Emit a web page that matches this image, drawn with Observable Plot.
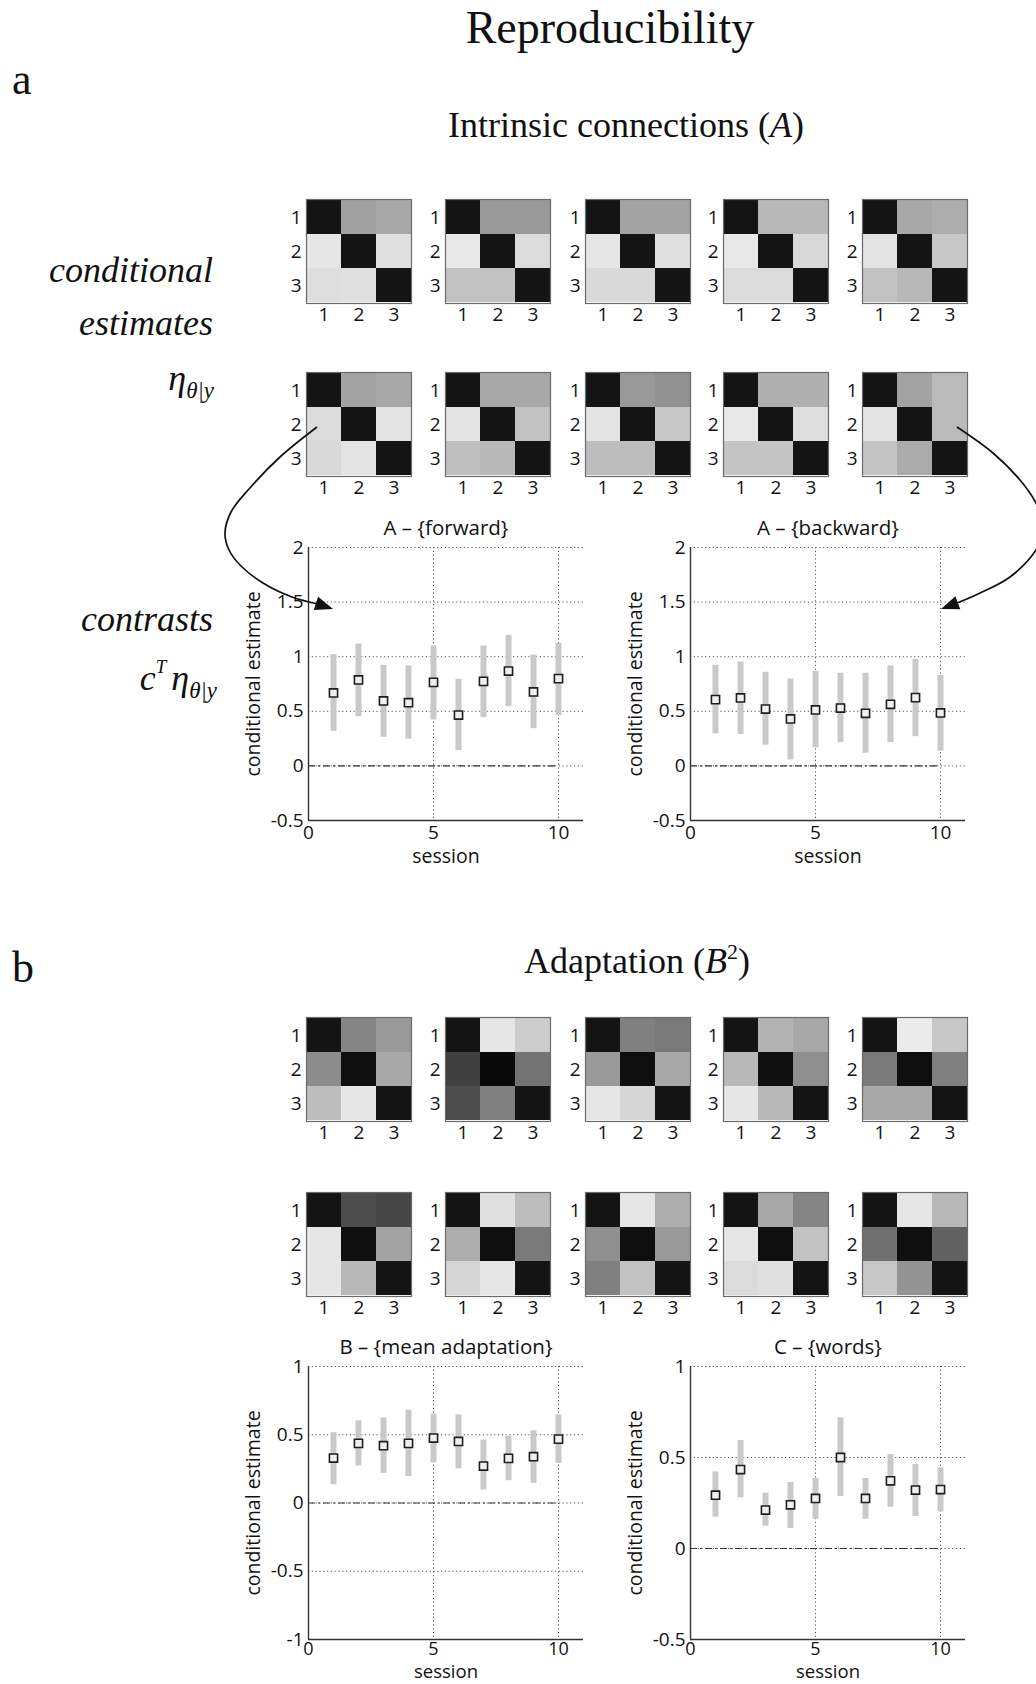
<!DOCTYPE html>
<html><head><meta charset="utf-8">
<script src="https://cdn.jsdelivr.net/npm/d3@7"></script>
<script src="https://cdn.jsdelivr.net/npm/@observablehq/plot@0.6"></script>
<style>
body{margin:0;background:#fff;}
#root{position:relative;width:1036px;height:1684px;overflow:hidden;background:#fff;}
.abs{position:absolute;}
#overlay{position:absolute;left:0;top:0;pointer-events:none;}
</style></head><body><div id="root"></div>
<script>
// ---------- data ----------
const sessions = [1,2,3,4,5,6,7,8,9,10];
const matrixIndex = [1,2,3];

// A - {forward}
const fwdMean = [0.668,0.787,0.595,0.579,0.765,0.466,0.774,0.869,0.677,0.799];
const fwdLo   = [0.317,0.451,0.262,0.244,0.421,0.140,0.442,0.543,0.341,0.460];
const fwdHi   = [1.018,1.116,0.921,0.915,1.098,0.793,1.098,1.195,1.015,1.122];
// A - {backward}
const bwdMean = [0.607,0.622,0.521,0.430,0.512,0.530,0.482,0.564,0.625,0.485];
const bwdLo   = [0.293,0.287,0.189,0.055,0.165,0.213,0.116,0.213,0.268,0.134];
const bwdHi   = [0.921,0.951,0.857,0.796,0.866,0.848,0.848,0.915,0.976,0.829];
// B - {mean adaptation}
const adaMean = [0.329,0.437,0.420,0.437,0.476,0.451,0.271,0.327,0.339,0.468];
const adaLo   = [0.134,0.271,0.217,0.193,0.295,0.251,0.095,0.163,0.144,0.290];
const adaHi   = [0.515,0.602,0.622,0.680,0.651,0.646,0.461,0.490,0.529,0.646];
// C - {words}
const wrdMean = [0.293,0.434,0.211,0.240,0.275,0.500,0.275,0.372,0.321,0.324];
const wrdLo   = [0.172,0.278,0.123,0.110,0.161,0.286,0.161,0.227,0.176,0.201];
const wrdHi   = [0.421,0.593,0.304,0.363,0.385,0.718,0.385,0.516,0.462,0.443];

const ticksA = [-0.5,0,0.5,1,1.5,2];
const ticksB = [-1,-0.5,0,0.5,1];
const ticksC = [-0.5,0,0.5,1];
const ticksX = [0,5,10];

// grey level (0 = black, 1 = white) of each cell of the conditional-estimate matrices
const intrinsic1  = [[0.08,0.63,0.66],[0.90,0.08,0.88],[0.87,0.88,0.08]];
const intrinsic2  = [[0.08,0.60,0.60],[0.91,0.08,0.86],[0.76,0.76,0.08]];
const intrinsic3  = [[0.08,0.64,0.64],[0.90,0.08,0.88],[0.85,0.85,0.08]];
const intrinsic4  = [[0.08,0.72,0.72],[0.91,0.08,0.85],[0.86,0.86,0.08]];
const intrinsic5  = [[0.08,0.66,0.68],[0.89,0.08,0.78],[0.76,0.72,0.08]];
const intrinsic6  = [[0.08,0.64,0.66],[0.86,0.08,0.89],[0.85,0.89,0.08]];
const intrinsic7  = [[0.08,0.66,0.66],[0.89,0.08,0.76],[0.75,0.72,0.08]];
const intrinsic8  = [[0.08,0.60,0.57],[0.89,0.08,0.78],[0.74,0.74,0.08]];
const intrinsic9  = [[0.08,0.69,0.69],[0.91,0.08,0.87],[0.77,0.77,0.08]];
const intrinsic10 = [[0.08,0.64,0.73],[0.89,0.08,0.73],[0.77,0.67,0.08]];

const adapt1  = [[0.08,0.52,0.60],[0.55,0.06,0.66],[0.74,0.90,0.08]];
const adapt2  = [[0.08,0.90,0.80],[0.25,0.04,0.45],[0.30,0.50,0.08]];
const adapt3  = [[0.08,0.50,0.48],[0.60,0.06,0.66],[0.90,0.84,0.08]];
const adapt4  = [[0.08,0.70,0.66],[0.72,0.06,0.56],[0.90,0.72,0.08]];
const adapt5  = [[0.08,0.92,0.78],[0.48,0.06,0.50],[0.66,0.66,0.08]];
const adapt6  = [[0.08,0.30,0.28],[0.90,0.06,0.64],[0.90,0.72,0.08]];
const adapt7  = [[0.08,0.88,0.74],[0.68,0.06,0.48],[0.84,0.90,0.08]];
const adapt8  = [[0.08,0.90,0.68],[0.56,0.06,0.60],[0.50,0.76,0.08]];
const adapt9  = [[0.08,0.66,0.52],[0.90,0.06,0.76],[0.86,0.88,0.08]];
const adapt10 = [[0.08,0.90,0.72],[0.44,0.06,0.38],[0.78,0.58,0.08]];

// ---------- layout ----------
const root = document.getElementById("root");
const SANS = "Open Sans";
const SERIF = "Liberation Serif";

function place(node, left, top) {
  const d = document.createElement("div");
  d.className = "abs";
  d.style.left = left + "px";
  d.style.top = top + "px";
  d.appendChild(node);
  root.appendChild(d);
}

const MW = 105, MH = 104, ML = 24, MT = 3, MR = 3, MB = 30;
function matrixPlot(shade) {
  const cells = [];
  matrixIndex.forEach((r, i) => matrixIndex.forEach((c, j) => cells.push({row: r, col: c, v: shade[i][j]})));
  return Plot.plot({
    width: ML + MW + MR, height: MT + MH + MB,
    marginLeft: ML, marginRight: MR, marginTop: MT, marginBottom: MB,
    x: {type: "band", domain: matrixIndex, padding: 0, axis: null},
    y: {type: "band", domain: matrixIndex, padding: 0, axis: null},
    color: {type: "linear", domain: [0, 1], range: ["#000000", "#ffffff"]},
    style: {fontFamily: SANS, background: "transparent", overflow: "visible"},
    marks: [
      Plot.cell(cells, {x: "col", y: "row", fill: "v", inset: 0}),
      Plot.frame({stroke: "#6a6a6a", strokeWidth: 1.2}),
      Plot.axisX({tickSize: 0, tickPadding: 4, fontSize: 19, label: null, fill: "#111"}),
      Plot.axisY({tickSize: 0, tickPadding: 5, fontSize: 19, label: null, fill: "#111"})
    ]
  });
}

const PW = 275, PH = 273, PL = 72, PT = 36, PR = 6, PB = 56;
function errPlot(title, mean, lo, hi, ticks, bottom) {
  const data = sessions.map((s, i) => ({s, m: mean[i], lo: lo[i], hi: hi[i]}));
  const yDomain = [d3.min(ticks), d3.max(ticks)];
  const xDomain = [0, d3.max(sessions) + 1];
  const zero = [{y: 0, x1: 0, x2: d3.max(sessions)}];
  const dotted = {stroke: "#555", strokeOpacity: 1, strokeWidth: 1, strokeDasharray: "1.2,2.6"};
  return Plot.plot({
    width: PL + PW + PR, height: PT + PH + PB,
    marginLeft: PL, marginRight: PR, marginTop: PT, marginBottom: PB,
    x: {domain: xDomain, axis: null},
    y: {domain: yDomain, axis: null},
    style: {fontFamily: SANS, background: "transparent", overflow: "visible"},
    marks: [
      Plot.gridY(ticks, dotted),
      Plot.gridX([5, 10], dotted),
      Plot.ruleY(zero, {y: "y", x1: "x1", x2: "x2", stroke: "#333", strokeWidth: 1.2, strokeDasharray: "7,3,2,3"}),
      Plot.ruleX(data, {x: "s", y1: "lo", y2: "hi", stroke: "#c9c9c9", strokeWidth: 6}),
      Plot.dot(data, {x: "s", y: "m", symbol: "square", r: 4.6, stroke: "#1e1e1e", strokeWidth: 1.6, fill: "#f0f0f0"}),
      Plot.ruleX([xDomain[0]], {stroke: "#333", strokeWidth: 1.4}),
      Plot.ruleY([yDomain[0]], {stroke: "#333", strokeWidth: 1.4}),
      Plot.axisX(ticksX, {tickSize: 0, tickPadding: bottom.pad, fontSize: bottom.tick, label: null, fill: "#111"}),
      Plot.axisY(ticks, {tickSize: 0, tickPadding: 5, fontSize: 19, label: null, fill: "#111", tickFormat: d => String(d)}),
      Plot.text([title], {frameAnchor: "top", lineAnchor: "middle", dy: -19, fontSize: 20.5, fill: "#111"}),
      Plot.text(["session"], {frameAnchor: "bottom", lineAnchor: "middle", dy: bottom.dy, fontSize: bottom.label, fill: "#111"}),
      Plot.text(["conditional estimate"], {frameAnchor: "left", textAnchor: "middle", lineAnchor: "middle", dx: -55, rotate: -90, fontSize: 19.5, fill: "#111"})
    ]
  });
}

const colLefts = [306, 445, 585, 723, 862];
[intrinsic1, intrinsic2, intrinsic3, intrinsic4, intrinsic5].forEach((m, i) => place(matrixPlot(m), colLefts[i] - ML, 199 - MT));
[intrinsic6, intrinsic7, intrinsic8, intrinsic9, intrinsic10].forEach((m, i) => place(matrixPlot(m), colLefts[i] - ML, 372 - MT));
[adapt1, adapt2, adapt3, adapt4, adapt5].forEach((m, i) => place(matrixPlot(m), colLefts[i] - ML, 1017 - MT));
[adapt6, adapt7, adapt8, adapt9, adapt10].forEach((m, i) => place(matrixPlot(m), colLefts[i] - ML, 1192 - MT));

const upperBottom = {pad: 5, tick: 19, dy: 36, label: 19.5};
const lowerBottom = {pad: 3, tick: 18, dy: 33, label: 18.5};
place(errPlot("A – {forward}", fwdMean, fwdLo, fwdHi, ticksA, upperBottom), 308 - PL, 547 - PT);
place(errPlot("A – {backward}", bwdMean, bwdLo, bwdHi, ticksA, upperBottom), 690 - PL, 547 - PT);
place(errPlot("B – {mean adaptation}", adaMean, adaLo, adaHi, ticksB, lowerBottom), 308 - PL, 1366 - PT);
place(errPlot("C – {words}", wrdMean, wrdLo, wrdHi, ticksC, lowerBottom), 690 - PL, 1366 - PT);

// ---------- overlay: headings, row labels, arrows ----------
const svg = d3.select(root).append("svg").attr("id", "overlay").attr("width", 1036).attr("height", 1684);
function txt(x, y, size, anchor, italic) {
  return svg.append("text").attr("x", x).attr("y", y).attr("font-family", SERIF)
    .attr("font-size", size).attr("text-anchor", anchor).attr("fill", "#111")
    .attr("font-style", italic ? "italic" : "normal");
}
txt(610, 43, 46, "middle").text("Reproducibility");
txt(12, 94, 44, "start").text("a");
const t1 = txt(626, 137, 36, "middle");
t1.append("tspan").text("Intrinsic connections (");
t1.append("tspan").attr("font-style", "italic").text("A");
t1.append("tspan").text(")");
txt(213, 282, 36, "end", true).text("conditional");
txt(213, 335, 36, "end", true).text("estimates");
const eta1 = txt(214, 390, 36, "end", true);
eta1.append("tspan").text("η");
eta1.append("tspan").attr("font-size", 23).attr("dy", 8).text("θ|y");
txt(213, 631, 36, "end", true).text("contrasts");
const ct = txt(217, 690, 36, "end", true);
ct.append("tspan").text("c");
ct.append("tspan").attr("font-size", 19).attr("dy", -17).text("T");
ct.append("tspan").attr("dy", 17).attr("dx", 5).text("η");
ct.append("tspan").attr("font-size", 23).attr("dy", 8).text("θ|y");

txt(12, 982, 44, "start").text("b");
const t2 = txt(637, 973, 36, "middle");
t2.append("tspan").text("Adaptation (");
t2.append("tspan").attr("font-style", "italic").text("B");
t2.append("tspan").attr("font-size", 22).attr("dy", -14).text("2");
t2.append("tspan").attr("dy", 14).text(")");

const line = d3.line().curve(d3.curveCatmullRom);
function arrow(points, tip) {
  svg.append("path").attr("d", line(points)).attr("fill", "none").attr("stroke", "#111").attr("stroke-width", 1.7);
  const last = points[points.length - 1];
  const dx = tip[0] - last[0], dy = tip[1] - last[1];
  const len = Math.hypot(dx, dy), ux = dx / len, uy = dy / len;
  const L = 18, W = 7;
  const bx = tip[0] - ux * L, by = tip[1] - uy * L;
  svg.append("polygon").attr("fill", "#111")
    .attr("points", [[tip[0], tip[1]], [bx - uy * W, by + ux * W], [bx + uy * W, by - ux * W]].map(p => p.join(",")).join(" "));
}
arrow([[317,427],[280,457],[249,489],[231,512],[225,533],[229,550],[241,566],[263,583],[292,597],[318,604]], [333,609]);
arrow([[957,427],[993,453],[1020,480],[1036,503],[1045,527],[1036,550],[1010,577],[978,594],[957,603]], [941,609]);
</script></body></html>
